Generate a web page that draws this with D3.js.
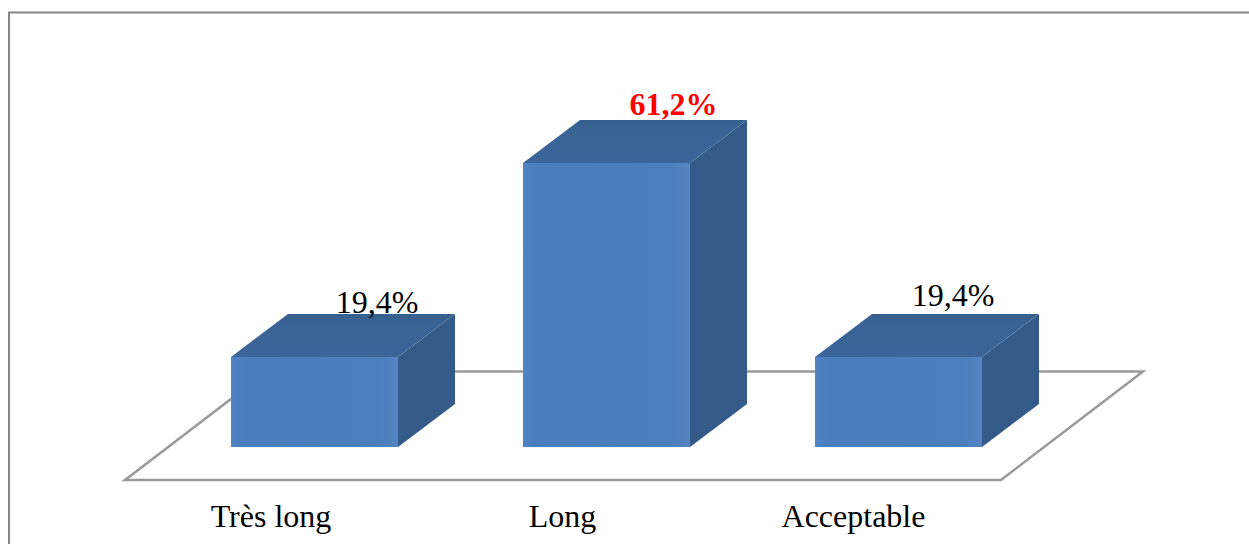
<!DOCTYPE html>
<html>
<head>
<meta charset="utf-8">
<script src="https://cdn.jsdelivr.net/npm/d3@7"></script>
<style>
html,body{margin:0;padding:0;background:#fff;overflow:hidden}
svg{display:block}
text{font-family:"Liberation Serif","Times New Roman",serif;font-size:32px;fill:#000}
</style>
</head>
<body>
<svg id="chart" width="1249" height="544"></svg>
<script>
const categories = ["Très long", "Long", "Acceptable"];
const values = [19.4, 61.2, 19.4];
const valueLabels = ["19,4%", "61,2%", "19,4%"];
const highlighted = [false, true, false];

const svg = d3.select("#chart");

// Plot geometry of the oblique 3D projection
const depth = { dx: 57, dy: -43 };
const baseY = 447;
const x = d3.scaleBand().domain(categories).range([231, 982]).paddingInner(0.428).paddingOuter(0);
const y = d3.scaleLinear().domain([0, 61.2]).range([baseY, 163]);

// Horizontal soft shading on the front faces
const defs = svg.append("defs");
const frontGrad = defs.append("linearGradient").attr("id", "front");
[[0, "#4f84c6"], [0.08, "#4a7dbd"], [0.9, "#4c7fbe"], [1, "#5585c2"]].forEach(([o, c]) =>
  frontGrad.append("stop").attr("offset", o).attr("stop-color", c));
const topGrad = defs.append("linearGradient").attr("id", "top").attr("x1", 0).attr("y1", 0).attr("x2", 0).attr("y2", 1);
[[0, "#34608e"], [0.3, "#3a6496"], [1, "#3b6598"]].forEach(([o, c]) =>
  topGrad.append("stop").attr("offset", o).attr("stop-color", c));

// Outer frame, open at the right and bottom edges
svg.append("path")
  .attr("d", d3.line()([[9, 544], [9, 12.5], [1249, 12.5]]))
  .attr("fill", "none").attr("stroke", "#858585").attr("stroke-width", 2);

// Floor parallelogram
const floorLeft = 125, floorRight = 1001, floorFront = 480;
svg.append("path")
  .attr("d", d3.line()([
    [floorLeft, floorFront],
    [floorRight, floorFront],
    [floorRight + 142, floorFront - 108.5],
    [floorLeft + 142, floorFront - 108.5]
  ]) + "Z")
  .attr("fill", "#fff").attr("stroke", "#999").attr("stroke-width", 2.5).attr("stroke-linejoin", "miter");

// One group per bar: side, top and front faces
const bars = svg.selectAll("g.bar").data(categories).join("g").attr("class", "bar");
const poly = pts => d3.line()(pts) + "Z";

bars.append("path").attr("fill", "#335a89").attr("d", (c, i) => {
  const r = x(c) + x.bandwidth(), t = y(values[i]);
  return poly([[r, baseY], [r, t], [r + depth.dx, t + depth.dy], [r + depth.dx, baseY + depth.dy]]);
});
bars.append("path").attr("fill", "url(#top)").attr("d", (c, i) => {
  const l = x(c), r = l + x.bandwidth(), t = y(values[i]);
  return poly([[l, t], [r, t], [r + depth.dx, t + depth.dy], [l + depth.dx, t + depth.dy]]);
});
bars.append("rect").attr("fill", "url(#front)")
  .attr("x", c => x(c)).attr("width", x.bandwidth())
  .attr("y", (c, i) => y(values[i])).attr("height", (c, i) => baseY - y(values[i]));

// Value labels sit on the back edge of each bar
const labelShift = [[146, -0.5], [150.5, -5], [138, -8]];
svg.selectAll("text.value").data(valueLabels).join("text")
  .attr("class", "value")
  .attr("x", (d, i) => x(categories[i]) + labelShift[i][0])
  .attr("y", (d, i) => y(values[i]) + depth.dy + labelShift[i][1])
  .attr("text-anchor", "middle")
  .style("font-weight", (d, i) => highlighted[i] ? "bold" : "normal")
  .style("fill", (d, i) => highlighted[i] ? "#ff0000" : "#000")
  .text(d => d);

// Category labels below the floor
const catShift = [-43.5, -44, -45];
svg.selectAll("text.cat").data(categories).join("text")
  .attr("class", "cat")
  .attr("x", (c, i) => x(c) + x.bandwidth() / 2 + catShift[i])
  .attr("y", 527)
  .attr("text-anchor", "middle")
  .text(c => c);
</script>
</body>
</html>
